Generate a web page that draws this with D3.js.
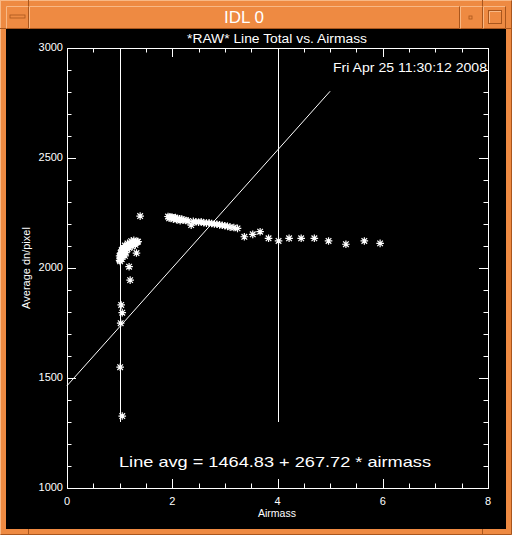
<!DOCTYPE html>
<html><head><meta charset="utf-8">
<script src="https://cdn.jsdelivr.net/npm/d3@7"></script>
<style>html,body{margin:0;padding:0;background:#ee8a42;}svg{display:block;}</style>
</head><body>
<script>
// ---- data ----
const xTicks = [0, 2, 4, 6, 8];
const yTicks = [1000, 1500, 2000, 2500, 3000];
const clusterAirmass = [1.00,1.01,1.02,1.03,1.04,1.05,1.06,1.07,1.08,1.09,1.10,1.12,1.14,1.16,1.18,1.20,1.22,1.25,1.28,1.30,1.33,1.35,1.02,1.05,1.08,1.12,1.15,1.10,1.01,1.04,1.02,1.06,1.10,1.15,1.22,1.27,1.00,1.04,1.08,1.12,1.18,1.24,1.30];
const clusterLine    = [2035,2045,2050,2055,2060,2068,2072,2078,2082,2086,2090,2095,2098,2100,2103,2105,2108,2110,2112,2115,2118,2120,2060,2075,2090,2070,2085,2055,2030,2040,2068,2088,2102,2112,2122,2126,2055,2082,2062,2080,2092,2098,2105];
const singleAirmass = [1.39,1.18,1.20,1.32,1.34,1.03,1.05,1.02,1.01,1.05];
const singleLine    = [2236,2006,1945,2068,2120,1832,1797,1749,1549,1327];
const bandAirmass = [1.92,1.95,1.98,2.00,2.03,2.06,2.10,2.14,2.18,2.22,2.26,2.30,2.36,2.40,2.45,2.50,2.55,2.60,2.65,2.70,2.75,2.80,2.85,2.90,2.95,3.00,3.05,3.10,3.17,3.24,1.94,2.02,2.08,2.15];
const bandLine    = [2234,2232,2230,2231,2228,2229,2225,2224,2222,2218,2216,2214,2195,2212,2210,2208,2210,2206,2204,2205,2202,2200,2199,2196,2194,2192,2190,2185,2184,2180,2226,2222,2220,2215];
const tailAirmass = [3.37,3.53,3.67,3.83,4.02,4.22,4.45,4.70,4.97,5.30,5.65,5.95];
const tailLine    = [2142,2153,2165,2135,2123,2135,2135,2135,2123,2108,2123,2112];
const fitIntercept = 1464.83, fitSlope = 267.72, fitRange = [0, 5];
const markerLines = [1, 4];
const markerRange = [1300, 3000];

const W = 512, H = 535;
const svg = d3.select("body").append("svg").attr("width", W).attr("height", H);

// ---- window frame ----
const orange = "#ee8a42", light = "#f8b885", dark = "#a9561d";
svg.append("rect").attr("x",0).attr("y",0).attr("width",W).attr("height",H).attr("fill",orange);
svg.append("rect").attr("x",0.5).attr("y",0.5).attr("width",W-1).attr("height",H-1).attr("fill","none").attr("stroke",light);
svg.append("path").attr("d",`M${W-0.5},0.5V${H-0.5}H0.5`).attr("fill","none").attr("stroke",dark);
function bevel(x,y,w,h){
  svg.append("path").attr("d",`M${x+0.5},${y+h-0.5}V${y+0.5}H${x+w-0.5}`).attr("fill","none").attr("stroke",light);
  svg.append("path").attr("d",`M${x+w-0.5},${y+0.5}V${y+h-0.5}H${x+0.5}`).attr("fill","none").attr("stroke",dark);
}
bevel(6,6,23,23); bevel(29,6,431,23); bevel(460,6,23,23); bevel(483,6,23,23);
svg.append("rect").attr("x",10).attr("y",15).attr("width",15).attr("height",3).attr("fill",orange).attr("stroke",dark).attr("stroke-width",0.8);
svg.append("rect").attr("x",469).attr("y",16).attr("width",3).attr("height",3).attr("fill",orange).attr("stroke",dark).attr("stroke-width",0.8);
svg.append("rect").attr("x",488.5).attr("y",10.5).attr("width",13).attr("height",13).attr("fill","none").attr("stroke",dark);
svg.append("path").attr("d","M489.5,23V11.5H501").attr("fill","none").attr("stroke",light);
[[28.5,0,28.5,6],[482.5,0,482.5,6],[28.5,529,28.5,535],[482.5,529,482.5,535],[0,28.5,6,28.5],[506,28.5,512,28.5]].forEach(d=>{
  svg.append("line").attr("x1",d[0]).attr("y1",d[1]).attr("x2",d[2]).attr("y2",d[3]).attr("stroke",dark);
});
svg.append("text").attr("x",244).attr("y",23).attr("text-anchor","middle")
  .attr("font-family","Liberation Sans, Arial, sans-serif").attr("font-size",17).attr("fill","#fff").text("IDL 0");

svg.append("rect").attr("x",6).attr("y",29).attr("width",500).attr("height",500).attr("fill","#000");

// ---- plot ----
const x = d3.scaleLinear().domain([0,8]).range([67,488]);
const y = d3.scaleLinear().domain([1000,3000]).range([488,48]);
const g = svg.append("g");
const font = "Liberation Sans, Arial, sans-serif";

g.append("rect").attr("x",67.5).attr("y",48.5).attr("width",421).attr("height",440).attr("fill","none").attr("stroke","#fff");

const xAll = d3.range(0, 8.01, 0.5);
const yAll = d3.range(1000, 3001, 100);
xAll.forEach(v=>{
  const major = Math.abs(v/2 - Math.round(v/2))<1e-6;
  const len = major ? 9 : 4.5;
  const px = Math.round(x(v))+0.5;
  g.append("line").attr("x1",px).attr("x2",px).attr("y1",488).attr("y2",488-len).attr("stroke","#fff");
  g.append("line").attr("x1",px).attr("x2",px).attr("y1",48).attr("y2",48+len).attr("stroke","#fff");
});
yAll.forEach(v=>{
  const major = v % 500 === 0;
  const len = major ? 9 : 4.5;
  const py = Math.round(y(v))+0.5;
  g.append("line").attr("x1",67).attr("x2",67+len).attr("y1",py).attr("y2",py).attr("stroke","#fff");
  g.append("line").attr("x1",488).attr("x2",488-len).attr("y1",py).attr("y2",py).attr("stroke","#fff");
});
xTicks.forEach(v=>{
  g.append("text").attr("x",x(v)).attr("y",505).attr("text-anchor","middle")
    .attr("font-family",font).attr("font-size",11).attr("fill","#fff").text(v);
});
yTicks.forEach(v=>{
  g.append("text").attr("x",63).attr("y",y(v)+3).attr("text-anchor","end")
    .attr("font-family",font).attr("font-size",11).attr("fill","#fff").text(v);
});
g.append("text").attr("x",258).attr("y",517).attr("textLength",38).attr("lengthAdjust","spacingAndGlyphs")
  .attr("font-family",font).attr("font-size",10.5).attr("fill","#fff").text("Airmass");
g.append("text").attr("transform","translate(30,268) rotate(-90)").attr("text-anchor","middle")
  .attr("font-family",font).attr("font-size",11).attr("fill","#fff").text("Average dn/pixel");
g.append("text").attr("x",187).attr("y",43).attr("textLength",180).attr("lengthAdjust","spacingAndGlyphs")
  .attr("font-family",font).attr("font-size",12.5).attr("fill","#fff").text("*RAW* Line Total vs. Airmass");
g.append("text").attr("x",333).attr("y",72).attr("textLength",154).attr("lengthAdjust","spacingAndGlyphs")
  .attr("font-family",font).attr("font-size",12.5).attr("fill","#fff").text("Fri Apr 25 11:30:12 2008");
g.append("text").attr("x",119).attr("y",467).attr("textLength",312).attr("lengthAdjust","spacingAndGlyphs")
  .attr("font-family",font).attr("font-size",15).attr("fill","#fff").text("Line avg = 1464.83 + 267.72 * airmass");

markerLines.forEach(v=>{
  g.append("line").attr("x1",Math.round(x(v))+0.5).attr("x2",Math.round(x(v))+0.5)
    .attr("y1",y(markerRange[0])).attr("y2",y(markerRange[1])).attr("stroke","#fff");
});
g.append("line").attr("x1",x(fitRange[0])).attr("y1",y(fitIntercept+fitSlope*fitRange[0]))
  .attr("x2",x(fitRange[1])).attr("y2",y(fitIntercept+fitSlope*fitRange[1])).attr("stroke","#fff").attr("stroke-width",1);

const r = 3.8, d = 2.8;
const star = `M${-r},0H${r}M0,${-r}V${r}M${-d},${-d}L${d},${d}M${-d},${d}L${d},${-d}`;
function plotStars(xs, ys){
  xs.forEach((v,i)=>{
    g.append("path").attr("d",star).attr("transform",`translate(${x(v)},${y(ys[i])})`)
      .attr("stroke","#fff").attr("stroke-width",1.2).attr("fill","none");
  });
}
plotStars(clusterAirmass, clusterLine);
plotStars(singleAirmass, singleLine);
plotStars(bandAirmass, bandLine);
plotStars(tailAirmass, tailLine);
</script>
</body></html>
